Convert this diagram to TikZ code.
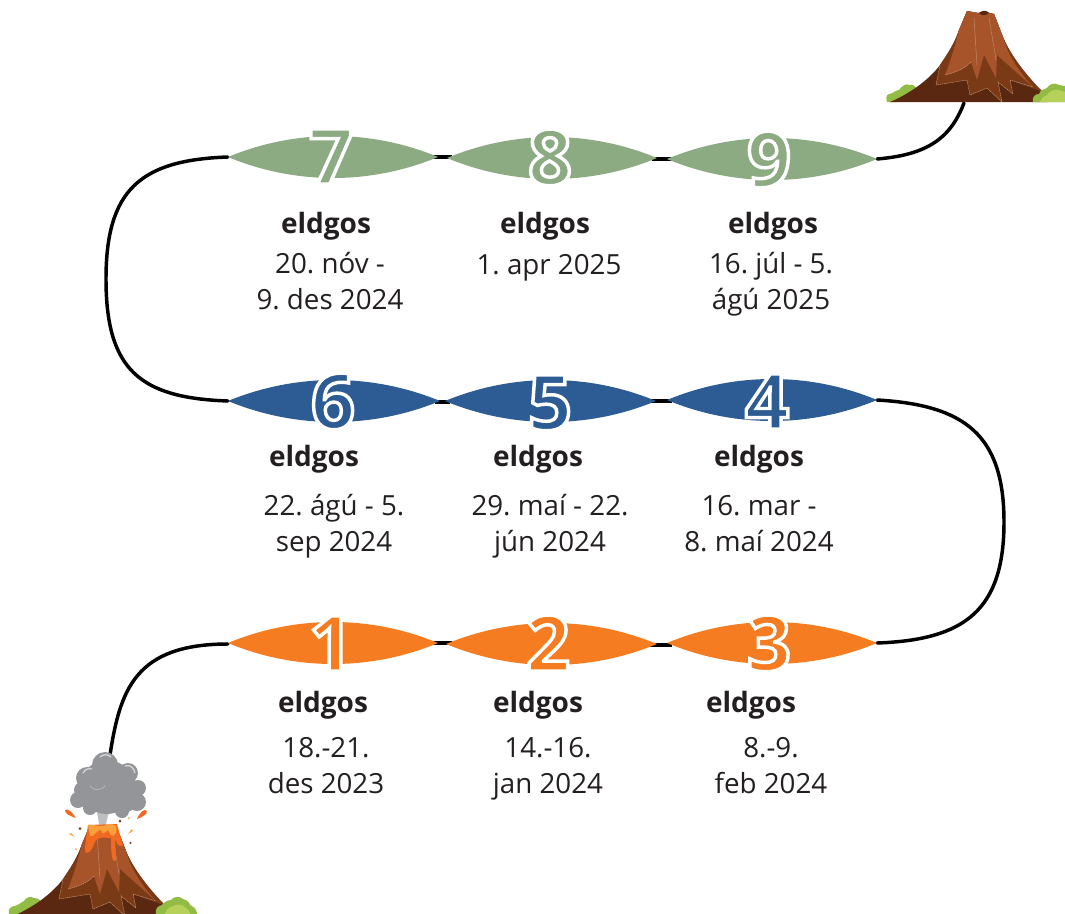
\documentclass[tikz,border=0pt]{standalone}
\usepackage{fontspec}
\setmainfont{Open Sans}
\frenchspacing
\definecolor{cgreen}{HTML}{8CAB82}
\definecolor{cblue}{HTML}{2C5C93}
\definecolor{corange}{HTML}{F57C20}
\definecolor{ink}{HTML}{231F20}
\definecolor{dk}{HTML}{5A2810}
\definecolor{md}{HTML}{7A3A16}
\definecolor{lt}{HTML}{A8542A}
\definecolor{vein}{HTML}{C99A78}
\definecolor{lgreen}{HTML}{93BC45}
\definecolor{llime}{HTML}{B5D15A}
\definecolor{smoke}{HTML}{939598}
\definecolor{smokel}{HTML}{BCBEC0}
\definecolor{smokeh}{HTML}{D8DADB}
\definecolor{lavad}{HTML}{F26A21}
\definecolor{laval}{HTML}{F9A13A}
\newcommand{\lens}[4]{% x0,x1,y,colour
  \fill[#4] (#1,#3) .. controls ({#1+0.32*(#2-#1)},{#3-28}) and ({#1+0.68*(#2-#1)},{#3-28}) .. (#2,#3)
     .. controls ({#1+0.68*(#2-#1)},{#3+28}) and ({#1+0.32*(#2-#1)},{#3+28}) .. cycle;}
\newcommand{\outlined}[1]{\special{pdf:code q 2 Tr 2.6 w 1 1 1 RG}#1\special{pdf:code Q}}
\tikzset{
  x=0.75pt,y=-0.75pt,
  digit/.style={font=\fontsize{58}{58}\selectfont\bfseries,inner sep=0,anchor=base},
  head/.style={font=\fontsize{21}{24}\selectfont\bfseries,text=ink,inner sep=0,anchor=base},
  body/.style={font=\fontsize{20.8}{26.3}\selectfont,text=ink,inner sep=0,align=center,anchor=base},
  conn/.style={line width=2.6pt,black,line cap=round},
  linkline/.style={line width=2.6pt,black},
  veinline/.style={vein,line width=0.35pt,dash pattern=on 1pt off 0.5pt}
}
\newcommand{\volcano}{%
  \fill[dk] (1,92) .. controls (20,84) and (40,70) .. (51,55) .. controls (60,42) and (66,32) .. (70,20) -- (78,1) -- (89,3) -- (96,2) -- (105,4) -- (114,27) .. controls (120,42) and (132,60) .. (158,88) -- (158,92) -- cycle;
  \fill[md] (51,55) -- (47,75) -- (78,70) -- (81,85) -- (98,78) -- (113,92) -- (109,72) -- (124,84) -- (121,70) -- (154,82) .. controls (134,62) and (120,42) .. (114,27) -- (105,4) -- (96,2) -- (89,3) -- (78,1) -- (70,20) .. controls (66,32) and (60,42) .. (51,55) -- cycle;
  \fill[lt] (78,1) -- (70,20) .. controls (66,36) and (62,50) .. (56,65) .. controls (68,62) and (76,58) .. (82,52) -- (88,70) -- (95,45) -- (107,68) -- (108,45) -- (144,77) .. controls (128,60) and (118,42) .. (114,27) -- (105,4) -- (96,2) -- (89,3) -- cycle;
  \draw[veinline] (51,55) -- (47,75) -- (78,70) -- (81,85) -- (98,78) -- (113,92) -- (109,72) -- (124,84) -- (121,70) -- (144,77);
  \draw[veinline] (56,65) .. controls (68,62) and (76,58) .. (82,52) (85,8) -- (88,55) (100,8) -- (107,50);
}
\begin{document}
\begin{tikzpicture}
\useasboundingbox (0,0) rectangle (1065,914);
\coordinate (topv) at (964,103);
\coordinate (botv) at (110,755);
\coordinate (l1) at (228,644);
\coordinate (r3) at (877,643);
\coordinate (r4) at (877,400);
\coordinate (l6) at (228,401);
\coordinate (l7) at (228,157);
\coordinate (r9) at (877,159);
\draw[conn] (botv) .. controls (120,690) and (135,644) .. (l1);
\draw[conn] (r3) .. controls (965,640) and (1004,610) .. (1004,522) .. controls (1004,435) and (965,405) .. (r4);
\draw[conn] (l6) .. controls (140,398) and (106,370) .. (106,279) .. controls (106,190) and (140,160) .. (l7);
\draw[conn] (r9) .. controls (925,155) and (950,140) .. (topv);
\coordinate (a1) at (432,157);\coordinate (a2) at (452,157);
\coordinate (b1) at (652,159);\coordinate (b2) at (672,159);
\coordinate (c1) at (435,402);\coordinate (c2) at (450,402);
\coordinate (e1) at (650,401);\coordinate (e2) at (672,401);
\coordinate (f1) at (432,643);\coordinate (f2) at (452,643);
\coordinate (g1) at (650,645);\coordinate (g2) at (672,645);
\draw[linkline] (a1) -- (a2) (b1) -- (b2) (c1) -- (c2) (e1) -- (e2) (f1) -- (f2) (g1) -- (g2);
\lens{228}{438}{157}{cgreen}\lens{447}{657}{158}{cgreen}\lens{667}{877}{159}{cgreen}
\lens{228}{440}{401}{cblue}\lens{445}{656}{401}{cblue}\lens{667}{877}{400}{cblue}
\lens{228}{438}{643}{corange}\lens{446}{657}{644}{corange}\lens{667}{877}{643}{corange}
\foreach \n/\d/\x/\y/\c in {d7/7/331/184/cgreen,d8/8/550/185/cgreen,d9/9/769/187/cgreen,d6/6/333/429/cblue,d5/5/550/430/cblue,d4/4/767/429/cblue,d1/1/331/671/corange,d2/2/548/671/corange,d3/3/769/671/corange}{
  \node[digit,text=\c] (\n) at (\x,\y) {\outlined{\d}};
}
\foreach \n/\x/\y in {h7/326/233,h8/545/233,h9/773/233,h6/314/466,h5/538/466,h4/759/466,h1/323/712,h2/538/712,h3/751/712}{
  \node[head] (\n) at (\x,\y) {eldgos};
}
\node[body] (t7) at (330,309) {20. nóv -\\9. des 2024};
\node[body] (t8) at (549,274) {1. apr 2025};
\node[body] (t9) at (771,309) {16. júl - 5.\\ágú 2025};
\node[body] (t6) at (334,551) {22. ágú - 5.\\sep 2024};
\node[body] (t5) at (550,551) {29. maí - 22.\\jún 2024};
\node[body] (t4) at (759,551) {16. mar -\\8. maí 2024};
\node[body] (t1) at (326,793) {18.-21.\\des 2023};
\node[body] (t2) at (548,793) {14.-16.\\jan 2024};
\node[body] (t3) at (771,793) {8.-9.\\feb 2024};
% top volcano
\begin{scope}[shift={(889,10)}]
  \fill[lgreen] (-2,92) .. controls (-3,88) and (-3,85) .. (0,84) .. controls (4,84) and (6,80) .. (10,80) .. controls (13,76) and (17,73) .. (20,75) .. controls (24,74) and (27,76) .. (28,80) -- (8,92) -- cycle;
  \volcano
  \fill[md!70!black] (90,3) .. controls (93,0) and (98,0) .. (100,3) .. controls (97,6) and (92,6) .. (90,3) -- cycle;
  \fill[lgreen] (144,92) .. controls (143,87) and (146,84) .. (150,84) .. controls (151,80) and (155,79) .. (158,78) .. controls (160,74) and (166,72) .. (170,75) -- (176,76) -- (176,92) -- cycle;
  \fill[llime] (151,92) .. controls (152,88) and (155,86) .. (158,85) .. controls (160,81) and (166,79) .. (170,80) -- (176,82) -- (176,92) -- cycle;
\end{scope}
% bottom volcano
\fill[lgreen] (9,914) .. controls (8,909) and (10,907) .. (14,906) .. controls (18,906) and (21,902) .. (24,901) .. controls (26,897) and (31,896) .. (34,898) .. controls (38,898) and (41,900) .. (42,904) -- (22,914) -- cycle;
\begin{scope}[shift={(12,824)}]
  \volcano
\end{scope}
\fill[smokel] (96,806) -- (110,806) .. controls (109,815) and (106,820) .. (106,826) -- (99,826) .. controls (99,820) and (97,815) .. (96,806) -- cycle;
\fill[lavad] (88,825) -- (117,824) -- (123,846) .. controls (118,848) and (116,842) .. (115,838) -- (116,860) .. controls (113,863) and (111,860) .. (111,838) .. controls (105,838) and (100,836) .. (96,840) .. controls (93,845) and (92,853) .. (86,853) .. controls (84,850) and (86,838) .. (88,825) -- cycle;
\fill[laval] (88,825) .. controls (92,824) and (96,826) .. (99,826) .. controls (103,827) and (108,824) .. (112,824) -- (116,826) .. controls (118,832) and (114,838) .. (111,835) -- (108,830) .. controls (104,834) and (102,835) .. (101,830) .. controls (97,829) and (94,838) .. (90,836) -- cycle;
\fill[smoke] (105,765) circle (13) (128,773) circle (10) (87,778) circle (11) (107,787) circle (27) (122,795) circle (18) (92,795) circle (15) (138,788) circle (8) (78,800) circle (8) (90,808) circle (7) (137,802) circle (9) (122,811) circle (7) (82,790) circle (8);
\draw[smokeh,line width=0.9pt] (100,757) .. controls (103,754) and (108,754) .. (111,757) (83,773) .. controls (85,769) and (89,768) .. (92,769) (125,766) .. controls (130,764) and (134,768) .. (135,773);
\draw[smokel,line width=0.5pt] (90,786) .. controls (94,791) and (100,791) .. (105,786);
\fill[lavad] (65,810) .. controls (68,808) and (72,812) .. (76,818) .. controls (70,816) and (65,814) .. (65,810) -- cycle (147,811) .. controls (144,808) and (140,812) .. (137,819) .. controls (142,817) and (147,815) .. (147,811) -- cycle;
\fill[laval] (69,834) -- (71,833) -- (75,837) -- cycle (128,834) -- (132,829) -- (133,831) -- cycle (129,818) circle (1) (76,849) circle (1);
\fill[md] (80,828.5) circle (1.5) (120,821) circle (1.5) (130.5,843) circle (1.2);
% bottom-right bush
\fill[lgreen] (156,914) .. controls (155,908) and (158,906) .. (162,905) .. controls (164,902) and (168,900) .. (171,900) .. controls (174,896) and (180,896) .. (183,899) .. controls (187,900) and (190,903) .. (190,905) .. controls (195,907) and (197,911) .. (197,914) -- cycle;
\fill[llime] (165,914) .. controls (166,909) and (170,907) .. (173,906) .. controls (176,904) and (180,904) .. (183,906) .. controls (187,908) and (190,911) .. (190,914) -- cycle;
\end{tikzpicture}
\end{document}
